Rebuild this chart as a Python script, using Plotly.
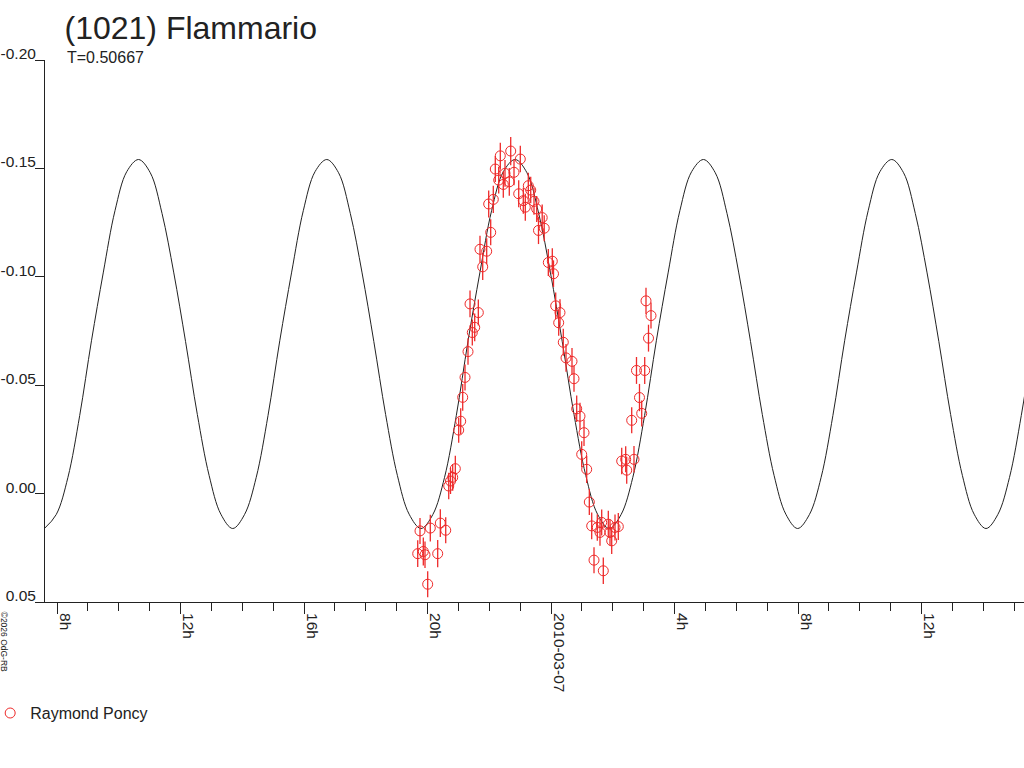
import pandas as pd
import plotly.graph_objects as go

BASE_DAY = pd.Timestamp('2010-03-06')

# Observations (Raymond Poncy): hours after 2010-03-06 00:00 UT, relative mag
obs_hours = [
    19.683, 19.757, 19.864, 19.919, 20.006, 20.091, 20.330, 20.415, 20.590,
    20.687, 20.745, 20.816, 20.901, 21.010, 21.075, 21.140, 21.215, 21.312,
    21.377, 21.451, 21.529, 21.646, 21.700, 21.788, 21.917, 21.982, 22.047,
    22.131, 22.196, 22.306, 22.358, 22.455, 22.510, 22.649, 22.695, 22.802,
    22.954, 23.006, 23.103, 23.168, 23.265, 23.343, 23.449, 23.537, 23.595,
    23.715, 23.780, 23.913, 24.042, 24.081, 24.152, 24.249, 24.291, 24.398,
    24.486, 24.680, 24.745, 24.832, 24.939, 24.994, 25.069, 25.156, 25.241,
    25.318, 25.393, 25.500, 25.587, 25.642, 25.694, 25.856, 25.911, 25.966,
    26.073, 26.180, 26.290, 26.419, 26.452, 26.614, 26.688, 26.769, 26.866,
    26.938, 27.035, 27.077, 27.158, 27.239,
]
obs_mag = [
    0.0277, 0.0172, 0.0267, 0.0282, 0.0418, 0.0159, 0.0277, 0.0136, 0.0169,
    -0.0035, -0.0058, -0.0075, -0.0115, -0.0293, -0.0334, -0.0444, -0.0536, -0.0655,
    -0.0875, -0.0743, -0.0767, -0.0835, -0.1127, -0.1046, -0.1118, -0.1336, -0.1205,
    -0.1357, -0.1497, -0.1446, -0.1558, -0.1426, -0.1477, -0.1438, -0.1580, -0.1482,
    -0.1383, -0.1543, -0.1351, -0.1321, -0.1420, -0.1400, -0.1348, -0.1313, -0.1214,
    -0.1273, -0.1224, -0.1066, -0.1072, -0.1014, -0.0866, -0.0788, -0.0835, -0.0698,
    -0.0626, -0.0610, -0.0530, -0.0391, -0.0357, -0.0181, -0.0281, -0.0112, 0.0039,
    0.0149, 0.0307, 0.0156, 0.0179, 0.0133, 0.0356, 0.0141, 0.0179, 0.0218,
    0.0156, 0.0152, -0.0150, -0.0158, -0.0108, -0.0338, -0.0158, -0.0568, -0.0443,
    -0.0370, -0.0568, -0.0889, -0.0717, -0.0821,
]
obs_err = [
    0.0062, 0.0060, 0.0065, 0.0061, 0.0060, 0.0062, 0.0063, 0.0064, 0.0060,
    0.0061, 0.0060, 0.0062, 0.0060, 0.0058, 0.0060, 0.0062, 0.0060, 0.0061,
    0.0062, 0.0060, 0.0064, 0.0060, 0.0062, 0.0061, 0.0060, 0.0062, 0.0060,
    0.0063, 0.0060, 0.0062, 0.0060, 0.0061, 0.0062, 0.0064, 0.0065, 0.0060,
    0.0062, 0.0061, 0.0060, 0.0062, 0.0060, 0.0061, 0.0062, 0.0060, 0.0063,
    0.0061, 0.0060, 0.0062, 0.0060, 0.0061, 0.0062, 0.0060, 0.0061, 0.0062,
    0.0064, 0.0062, 0.0060, 0.0061, 0.0062, 0.0060, 0.0061, 0.0063, 0.0060,
    0.0062, 0.0060, 0.0061, 0.0062, 0.0060, 0.0061, 0.0062, 0.0060, 0.0061,
    0.0060, 0.0062, 0.0061, 0.0060, 0.0062, 0.0060, 0.0061, 0.0062, 0.0063,
    0.0060, 0.0062, 0.0061, 0.0062, 0.0060,
]

# Fitted lightcurve
curve_hours = [
    7.592, 7.973, 8.354, 8.735, 9.116, 9.497, 9.878, 10.259, 10.640,
    11.021, 11.402, 11.783, 12.164, 12.545, 12.926, 13.307, 13.691,
    14.072, 14.453, 14.834, 15.215, 15.596, 15.977, 16.358, 16.738,
    17.119, 17.500, 17.881, 18.262, 18.643, 19.024, 19.405, 19.790,
    20.171, 20.552, 20.933, 21.314, 21.695, 22.076, 22.457, 22.840,
    23.221, 23.602, 23.983, 24.364, 24.745, 25.126, 25.507, 25.888,
    26.269, 26.650, 27.031, 27.412, 27.793, 28.174, 28.555, 28.939,
    29.320, 29.701, 30.082, 30.463, 30.844, 31.225, 31.606, 31.987,
    32.368, 32.749, 33.130, 33.511, 33.892, 34.273, 34.654, 35.038,
    35.419, 35.800, 36.181, 36.562, 36.943, 37.324, 37.705, 38.089,
    38.470, 38.851, 39.232, 39.613,
]
curve_mag = [
    0.0161, 0.0097, -0.0075, -0.0360, -0.0705, -0.1018, -0.1305, -0.1485, -0.1541,
    -0.1480, -0.1292, -0.1018, -0.0701, -0.0365, -0.0084, 0.0095, 0.0161,
    0.0097, -0.0075, -0.0360, -0.0705, -0.1018, -0.1305, -0.1485, -0.1541,
    -0.1480, -0.1292, -0.1018, -0.0701, -0.0365, -0.0084, 0.0095, 0.0161,
    0.0097, -0.0075, -0.0360, -0.0705, -0.1018, -0.1305, -0.1485, -0.1541,
    -0.1480, -0.1292, -0.1018, -0.0701, -0.0365, -0.0084, 0.0095, 0.0161,
    0.0097, -0.0075, -0.0360, -0.0705, -0.1018, -0.1305, -0.1485, -0.1541,
    -0.1480, -0.1292, -0.1018, -0.0701, -0.0365, -0.0084, 0.0095, 0.0161,
    0.0097, -0.0075, -0.0360, -0.0705, -0.1018, -0.1305, -0.1485, -0.1541,
    -0.1480, -0.1292, -0.1018, -0.0701, -0.0365, -0.0084, 0.0095, 0.0161,
    0.0097, -0.0075, -0.0360, -0.0705,
]

x_tick_hours = [8, 12, 16, 20, 24, 28, 32, 36]
x_tick_text = ['8h', '12h', '16h', '20h', '2010-03-07', '4h', '8h', '12h']
y_tick_vals = [-0.20, -0.15, -0.10, -0.05, 0.00, 0.05]
y_tick_text = ['-0.20', '-0.15', '-0.10', '-0.05', '0.00', '0.05']
x_range_hours = [7.611, 39.320]

FONT = 'Liberation Sans, Arial, sans-serif'
RED = '#ee2a2a'
INK = '#222222'


def to_time(hours):
    return BASE_DAY + pd.to_timedelta(pd.Series(hours), unit='h')


fig = go.Figure()

fig.add_trace(go.Scatter(
    x=to_time(curve_hours), y=curve_mag,
    mode='lines', line=dict(color=INK, width=1, shape='spline', smoothing=1.0),
    showlegend=False, hoverinfo='skip',
))

fig.add_trace(go.Scatter(
    x=to_time(obs_hours), y=obs_mag,
    mode='markers', name='Raymond Poncy',
    marker=dict(symbol='circle-open', size=10, color=RED, line=dict(width=1, color=RED)),
    error_y=dict(type='data', array=obs_err, color=RED, thickness=1.3, width=0),
))

fig.update_xaxes(
    type='date',
    range=list(to_time(x_range_hours)),
    tickvals=list(to_time(x_tick_hours)),
    ticktext=x_tick_text,
    tickangle=90,
    ticks='outside', ticklen=11, tickcolor=INK, tickwidth=1,
    ticklabelshift=8,
    ticklabelstandoff=-4,
    tickfont=dict(family=FONT, size=15.5, color=INK),
    showline=True, linecolor=INK, linewidth=1,
    showgrid=False, zeroline=False,
    minor=dict(ticks='outside', ticklen=8, tickcolor=INK, tickwidth=1,
               tick0='2010-03-06', dtick=3600000, showgrid=False),
)

fig.update_yaxes(
    range=[0.05, -0.20],
    tickvals=y_tick_vals, ticktext=y_tick_text,
    ticks='outside', ticklen=9, tickcolor=INK, tickwidth=1,
    ticklabelposition='outside top',
    ticklabelstandoff=5,
    ticklabelshift=-5,
    tickfont=dict(family=FONT, size=15.5, color=INK),
    showline=True, linecolor=INK, linewidth=1,
    showgrid=False, zeroline=False,
)

fig.add_annotation(
    text='T=0.50667', xref='paper', yref='paper', x=0.0204, y=1.004,
    xanchor='left', yanchor='middle', showarrow=False,
    font=dict(family=FONT, size=16, color=INK),
)
fig.add_annotation(
    text='©2026 OdG-RB', xref='paper', yref='paper', x=-0.0424, y=-0.074,
    xanchor='center', yanchor='middle', showarrow=False, textangle=90,
    font=dict(family=FONT, size=8.5, color=INK),
)

fig.update_layout(
    width=1024, height=768,
    margin=dict(l=45, r=0, t=60, b=166, autoexpand=False),
    paper_bgcolor='white', plot_bgcolor='white',
    title=dict(text='(1021) Flammario', xref='container', yref='container',
               x=0.063, y=0.9635, xanchor='left', yanchor='middle',
               font=dict(family=FONT, size=32, color=INK)),
    showlegend=True,
    legend=dict(x=-0.056, y=-0.205, xanchor='left', yanchor='middle',
                bgcolor='rgba(0,0,0,0)',
                font=dict(family=FONT, size=16, color=INK)),
)

# page margin off so the 1024x768 figure fills the window exactly
fig.write_html('out.html',
               config={'displayModeBar': False},
               post_script="document.body.style.margin='0';"
                           "document.body.style.overflow='hidden';")
